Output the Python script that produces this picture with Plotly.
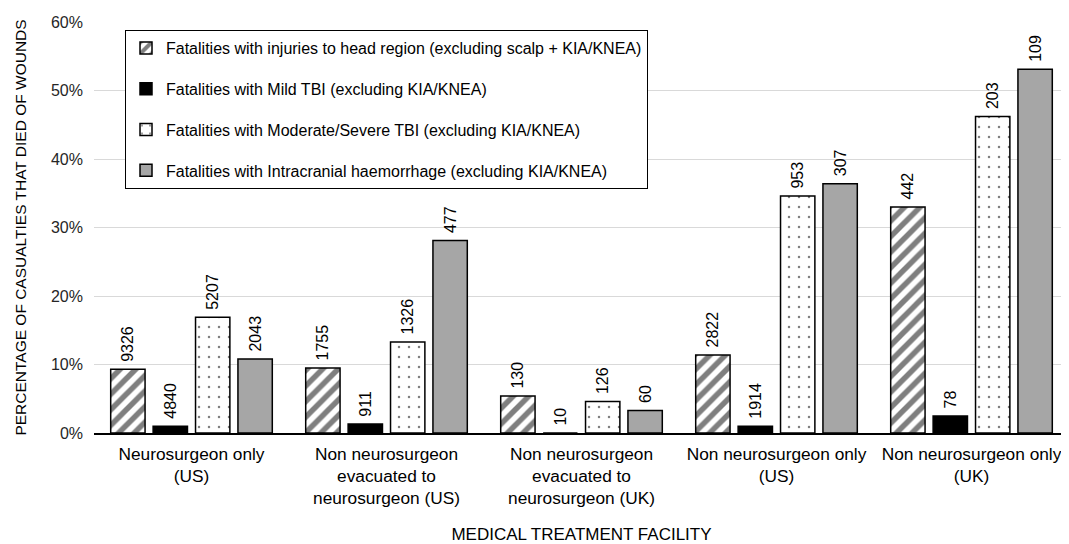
import plotly.graph_objects as go

categories = [
    "Neurosurgeon only<br>(US)",
    "Non neurosurgeon<br>evacuated to<br>neurosurgeon (US)",
    "Non neurosurgeon<br>evacuated to<br>neurosurgeon (UK)",
    "Non neurosurgeon only<br>(US)",
    "Non neurosurgeon only<br>(UK)",
]
series_names = [
    "Fatalities with injuries to head region (excluding scalp + KIA/KNEA)",
    "Fatalities with Mild TBI (excluding KIA/KNEA)",
    "Fatalities with Moderate/Severe TBI (excluding KIA/KNEA)",
    "Fatalities with Intracranial haemorrhage (excluding KIA/KNEA)",
]
head_region = [0.093, 0.095, 0.054, 0.114, 0.330]
mild_tbi = [0.010, 0.013, 0.000, 0.010, 0.025]
mod_sev_tbi = [0.169, 0.133, 0.046, 0.346, 0.462]
ich = [0.108, 0.281, 0.033, 0.364, 0.531]

head_n = [9326, 1755, 130, 2822, 442]
mild_n = [4840, 911, 10, 1914, 78]
modsev_n = [5207, 1326, 126, 953, 203]
ich_n = [2043, 477, 60, 307, 109]

values = [head_region, mild_tbi, mod_sev_tbi, ich]
counts = [head_n, mild_n, modsev_n, ich_n]

styles = [
    dict(color="white", pattern=dict(shape="/", fgcolor="black", bgcolor="white", size=11, solidity=0.5)),
    dict(color="black"),
    dict(color="white", pattern=dict(shape=".", fgcolor="black", bgcolor="white", size=10, solidity=0.05)),
    dict(color="#A6A6A6"),
]

FONT = "Liberation Sans, Arial, sans-serif"

fig = go.Figure()
for i in range(4):
    fig.add_trace(go.Bar(
        x=categories,
        y=values[i],
        name=series_names[i],
        legendgroup=f"g{i}",
        text=["\u00a0" + str(c) for c in counts[i]],
        textposition="outside",
        textangle=-90,
        constraintext="none",
        cliponaxis=False,
        textfont=dict(size=16, color="black", family=FONT),
        marker=dict(line=dict(color="black", width=1.5), **styles[i]),
    ))

fig.update_layout(
    width=1061,
    height=536,
    margin=dict(l=86, r=0, t=14, b=111),
    paper_bgcolor="white",
    plot_bgcolor="white",
    font=dict(family=FONT, size=16, color="black"),
    barmode="group",
    bargap=0.13,
    bargroupgap=0.19,
    showlegend=True,
    legend=dict(
        x=0.0318, y=0.9805, xanchor="left", yanchor="top",
        bgcolor="white", bordercolor="black", borderwidth=1,
        font=dict(size=16, color="black"),
        tracegroupgap=17,
        itemwidth=30,
        traceorder="grouped",
    ),
    yaxis=dict(
        range=[0, 0.6],
        tickformat=".0%",
        dtick=0.1,
        showgrid=True,
        gridcolor="#D9D9D9",
        gridwidth=1.3,
        zeroline=False,
        automargin=False,
        tickfont=dict(size=16, color="#262626"),
        ticks="",
        ticklabelstandoff=10,
        title=dict(text="PERCENTAGE OF CASUALTIES THAT DIED OF WOUNDS", font=dict(size=15.5, color="black"), standoff=20),
    ),
    xaxis=dict(
        showline=True,
        linecolor="black",
        linewidth=1.5,
        ticks="",
        automargin=False,
        ticklabelstandoff=4,
        tickfont=dict(size=17.3, color="black"),
        title=dict(text="MEDICAL TREATMENT FACILITY", font=dict(size=17, color="black"), standoff=26),
    ),
)

fig.write_html("out.html")
